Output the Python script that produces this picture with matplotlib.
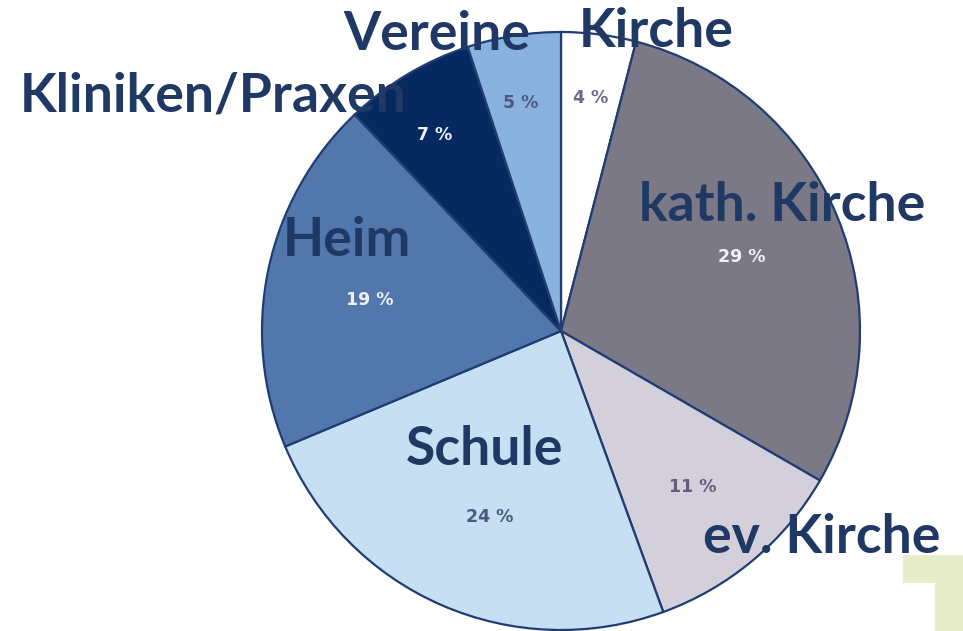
import matplotlib
matplotlib.use("Agg")
import matplotlib.pyplot as plt
from matplotlib.patches import Rectangle

categories = ["Kirche", "kath. Kirche", "ev. Kirche", "Schule", "Heim", "Kliniken/Praxen", "Vereine"]
values = [4, 29, 11, 24, 19, 7, 5]
colors = ["#ffffff", "#7a7985", "#d3d0dc", "#c6dff3", "#5177ad", "#062a60", "#8ab2de"]
pct_colors = ["#6a6a8a", "#eef2f8", "#6a5a7a", "#4a5a80", "#eef2f8", "#eef2f8", "#4a5a80"]

# layout (pixel positions, top-left origin; category labels at baseline)
W, H = 963, 631
center_px = (561, 331)
radius_px = 299
cat_pos = [(656, 47), (782, 221), (822, 553), (485, 465), (347, 256), (213, 112), (437, 50)]
pct_pos = [(591, 98), (742, 257), (693, 487), (490, 517), (370, 300), (435, 135), (521, 103)]

fig = plt.figure(figsize=(W / 100, H / 100), dpi=100)
ax = fig.add_axes([0, 0, 1, 1])

# decorative light-green shape bottom-right
ax.add_patch(Rectangle((903, H - 583), 60, 28, color="#e6edc8", zorder=0, lw=0))
ax.add_patch(Rectangle((935, 0), 28, H - 583, color="#e6edc8", zorder=0, lw=0))

ax.pie(values, colors=colors, startangle=90, counterclock=False,
       center=(center_px[0], H - center_px[1]), radius=radius_px, frame=True,
       wedgeprops=dict(edgecolor="#1f3d73", linewidth=1.6))

for cat, (x, y) in zip(categories, cat_pos):
    ax.text(x, H - y, cat, ha="center", va="baseline", fontsize=38.5, fontweight="bold",
            color="#1f3864", family="Lato", zorder=5)

for v, c, (x, y) in zip(values, pct_colors, pct_pos):
    ax.text(x, H - y, f"{v} %", ha="center", va="center", fontsize=12.5, fontweight="bold",
            color=c, family="DejaVu Sans", zorder=5)

ax.set_xlim(0, W)
ax.set_ylim(0, H)
ax.set_aspect("equal")
ax.axis("off")
fig.savefig("out.png", dpi=100)
